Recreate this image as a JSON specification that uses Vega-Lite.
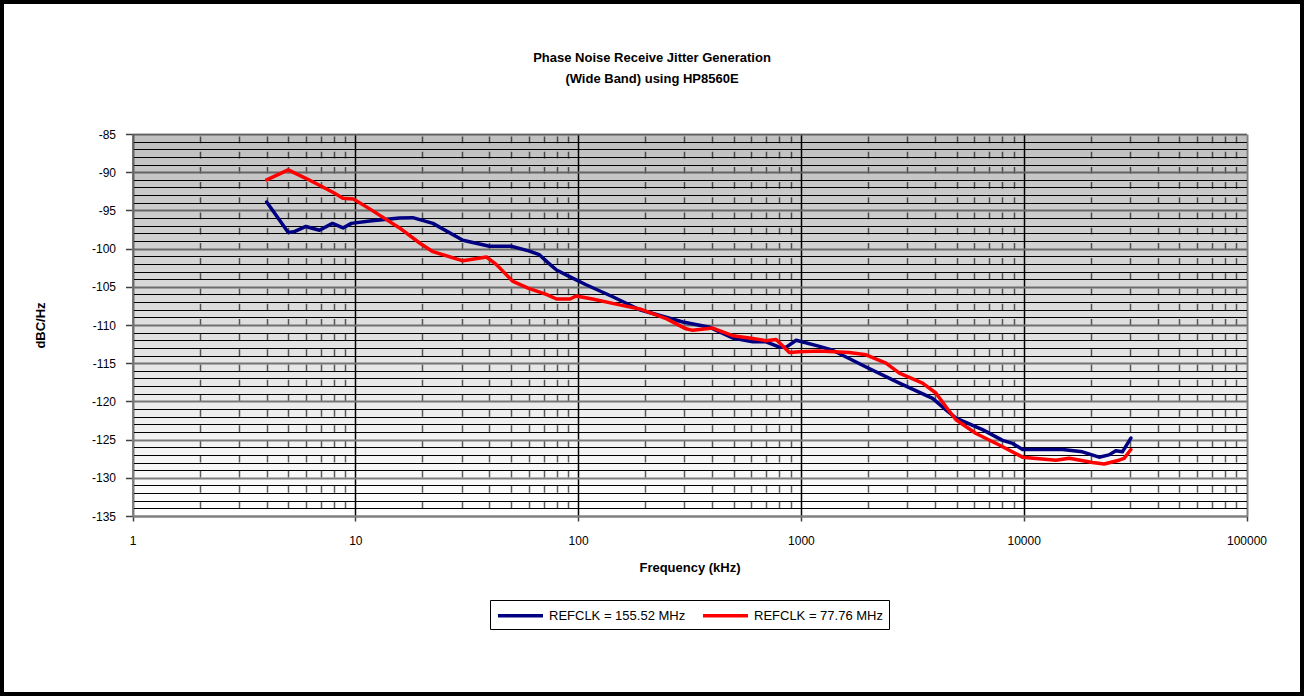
{
  "$schema": "https://vega.github.io/schema/vega-lite/v6.json",
  "width": 1304,
  "height": 696,
  "autosize": {"type": "none"},
  "padding": 0,
  "background": "white",
  "config": {
    "view": {"stroke": "black", "strokeWidth": 8, "fill": "white"},
    "font": "Liberation Sans"
  },
  "title": {
    "text": ["Phase Noise Receive Jitter Generation", "(Wide Band) using HP8560E"],
    "fontSize": 13,
    "fontWeight": "bold",
    "font": "Liberation Sans",
    "color": "black",
    "anchor": "middle",
    "offset": -86,
    "lineHeight": 21
  },
  "datasets": {
    "plotrange": [{"f_lo": 1, "f_hi": 100000, "db_hi": -85, "db_lo": -135}],
    "noise": [
      {"series": "REFCLK = 155.52 MHz", "f": 4, "db": -93.9},
      {"series": "REFCLK = 155.52 MHz", "f": 4.5, "db": -96.0},
      {"series": "REFCLK = 155.52 MHz", "f": 5, "db": -97.9},
      {"series": "REFCLK = 155.52 MHz", "f": 5.3, "db": -97.8},
      {"series": "REFCLK = 155.52 MHz", "f": 6, "db": -97.1},
      {"series": "REFCLK = 155.52 MHz", "f": 6.9, "db": -97.6},
      {"series": "REFCLK = 155.52 MHz", "f": 7.9, "db": -96.7},
      {"series": "REFCLK = 155.52 MHz", "f": 8.8, "db": -97.3},
      {"series": "REFCLK = 155.52 MHz", "f": 9.6, "db": -96.7},
      {"series": "REFCLK = 155.52 MHz", "f": 11.6, "db": -96.4},
      {"series": "REFCLK = 155.52 MHz", "f": 15.8, "db": -96.0},
      {"series": "REFCLK = 155.52 MHz", "f": 18.1, "db": -95.95},
      {"series": "REFCLK = 155.52 MHz", "f": 22.3, "db": -96.7},
      {"series": "REFCLK = 155.52 MHz", "f": 30.4, "db": -98.9},
      {"series": "REFCLK = 155.52 MHz", "f": 40, "db": -99.7},
      {"series": "REFCLK = 155.52 MHz", "f": 50, "db": -99.7},
      {"series": "REFCLK = 155.52 MHz", "f": 60, "db": -100.3},
      {"series": "REFCLK = 155.52 MHz", "f": 67, "db": -100.8},
      {"series": "REFCLK = 155.52 MHz", "f": 73, "db": -101.8},
      {"series": "REFCLK = 155.52 MHz", "f": 80, "db": -102.8},
      {"series": "REFCLK = 155.52 MHz", "f": 92, "db": -103.7},
      {"series": "REFCLK = 155.52 MHz", "f": 108, "db": -104.7},
      {"series": "REFCLK = 155.52 MHz", "f": 143, "db": -106.3},
      {"series": "REFCLK = 155.52 MHz", "f": 189, "db": -108.0},
      {"series": "REFCLK = 155.52 MHz", "f": 295, "db": -109.6},
      {"series": "REFCLK = 155.52 MHz", "f": 390, "db": -110.3},
      {"series": "REFCLK = 155.52 MHz", "f": 494, "db": -111.7},
      {"series": "REFCLK = 155.52 MHz", "f": 608, "db": -112.2},
      {"series": "REFCLK = 155.52 MHz", "f": 698, "db": -112.2},
      {"series": "REFCLK = 155.52 MHz", "f": 801, "db": -112.9},
      {"series": "REFCLK = 155.52 MHz", "f": 860, "db": -112.9},
      {"series": "REFCLK = 155.52 MHz", "f": 952, "db": -112.0},
      {"series": "REFCLK = 155.52 MHz", "f": 1211, "db": -112.8},
      {"series": "REFCLK = 155.52 MHz", "f": 1388, "db": -113.3},
      {"series": "REFCLK = 155.52 MHz", "f": 1960, "db": -115.5},
      {"series": "REFCLK = 155.52 MHz", "f": 2768, "db": -117.6},
      {"series": "REFCLK = 155.52 MHz", "f": 3900, "db": -119.6},
      {"series": "REFCLK = 155.52 MHz", "f": 4480, "db": -121.1},
      {"series": "REFCLK = 155.52 MHz", "f": 4970, "db": -122.2},
      {"series": "REFCLK = 155.52 MHz", "f": 6530, "db": -123.7},
      {"series": "REFCLK = 155.52 MHz", "f": 8040, "db": -125.1},
      {"series": "REFCLK = 155.52 MHz", "f": 8910, "db": -125.5},
      {"series": "REFCLK = 155.52 MHz", "f": 9880, "db": -126.3},
      {"series": "REFCLK = 155.52 MHz", "f": 14930, "db": -126.3},
      {"series": "REFCLK = 155.52 MHz", "f": 18350, "db": -126.6},
      {"series": "REFCLK = 155.52 MHz", "f": 21800, "db": -127.3},
      {"series": "REFCLK = 155.52 MHz", "f": 24150, "db": -127.0},
      {"series": "REFCLK = 155.52 MHz", "f": 25900, "db": -126.45},
      {"series": "REFCLK = 155.52 MHz", "f": 27740, "db": -126.6},
      {"series": "REFCLK = 155.52 MHz", "f": 30270, "db": -124.8},
      {"series": "REFCLK = 77.76 MHz", "f": 4, "db": -91.0},
      {"series": "REFCLK = 77.76 MHz", "f": 5, "db": -89.7},
      {"series": "REFCLK = 77.76 MHz", "f": 6, "db": -90.8},
      {"series": "REFCLK = 77.76 MHz", "f": 6.9, "db": -91.7},
      {"series": "REFCLK = 77.76 MHz", "f": 8, "db": -92.7},
      {"series": "REFCLK = 77.76 MHz", "f": 8.8, "db": -93.4},
      {"series": "REFCLK = 77.76 MHz", "f": 9.8, "db": -93.5},
      {"series": "REFCLK = 77.76 MHz", "f": 11.6, "db": -94.8},
      {"series": "REFCLK = 77.76 MHz", "f": 15.8, "db": -97.3},
      {"series": "REFCLK = 77.76 MHz", "f": 19.5, "db": -99.3},
      {"series": "REFCLK = 77.76 MHz", "f": 22.3, "db": -100.4},
      {"series": "REFCLK = 77.76 MHz", "f": 30.4, "db": -101.6},
      {"series": "REFCLK = 77.76 MHz", "f": 38.8, "db": -101.1},
      {"series": "REFCLK = 77.76 MHz", "f": 43, "db": -102.1},
      {"series": "REFCLK = 77.76 MHz", "f": 51, "db": -104.3},
      {"series": "REFCLK = 77.76 MHz", "f": 60, "db": -105.2},
      {"series": "REFCLK = 77.76 MHz", "f": 72, "db": -106.0},
      {"series": "REFCLK = 77.76 MHz", "f": 80, "db": -106.6},
      {"series": "REFCLK = 77.76 MHz", "f": 92, "db": -106.6},
      {"series": "REFCLK = 77.76 MHz", "f": 98, "db": -106.2},
      {"series": "REFCLK = 77.76 MHz", "f": 116, "db": -106.6},
      {"series": "REFCLK = 77.76 MHz", "f": 150, "db": -107.3},
      {"series": "REFCLK = 77.76 MHz", "f": 189, "db": -107.9},
      {"series": "REFCLK = 77.76 MHz", "f": 250, "db": -109.2},
      {"series": "REFCLK = 77.76 MHz", "f": 305, "db": -110.5},
      {"series": "REFCLK = 77.76 MHz", "f": 327, "db": -110.7},
      {"series": "REFCLK = 77.76 MHz", "f": 402, "db": -110.4},
      {"series": "REFCLK = 77.76 MHz", "f": 494, "db": -111.4},
      {"series": "REFCLK = 77.76 MHz", "f": 587, "db": -111.7},
      {"series": "REFCLK = 77.76 MHz", "f": 698, "db": -112.05},
      {"series": "REFCLK = 77.76 MHz", "f": 774, "db": -111.9},
      {"series": "REFCLK = 77.76 MHz", "f": 888, "db": -113.6},
      {"series": "REFCLK = 77.76 MHz", "f": 985, "db": -113.5},
      {"series": "REFCLK = 77.76 MHz", "f": 1211, "db": -113.4},
      {"series": "REFCLK = 77.76 MHz", "f": 1649, "db": -113.6},
      {"series": "REFCLK = 77.76 MHz", "f": 1960, "db": -113.9},
      {"series": "REFCLK = 77.76 MHz", "f": 2410, "db": -115.0},
      {"series": "REFCLK = 77.76 MHz", "f": 2768, "db": -116.3},
      {"series": "REFCLK = 77.76 MHz", "f": 3515, "db": -117.6},
      {"series": "REFCLK = 77.76 MHz", "f": 4035, "db": -118.9},
      {"series": "REFCLK = 77.76 MHz", "f": 4477, "db": -120.7},
      {"series": "REFCLK = 77.76 MHz", "f": 4965, "db": -122.4},
      {"series": "REFCLK = 77.76 MHz", "f": 6110, "db": -124.2},
      {"series": "REFCLK = 77.76 MHz", "f": 7765, "db": -125.7},
      {"series": "REFCLK = 77.76 MHz", "f": 9880, "db": -127.3},
      {"series": "REFCLK = 77.76 MHz", "f": 13940, "db": -127.7},
      {"series": "REFCLK = 77.76 MHz", "f": 16000, "db": -127.45},
      {"series": "REFCLK = 77.76 MHz", "f": 20360, "db": -128.0},
      {"series": "REFCLK = 77.76 MHz", "f": 22960, "db": -128.2},
      {"series": "REFCLK = 77.76 MHz", "f": 26800, "db": -127.7},
      {"series": "REFCLK = 77.76 MHz", "f": 28230, "db": -127.45},
      {"series": "REFCLK = 77.76 MHz", "f": 30270, "db": -126.3}
    ]
  },
  "resolve": {"axis": {"x": "independent", "y": "independent"}},
  "layer": [
    {
      "data": {"name": "plotrange"},
      "mark": {
        "type": "rect",
        "fill": {
          "gradient": "linear",
          "x1": 0, "y1": 0, "x2": 0, "y2": 1,
          "stops": [
            {"offset": 0, "color": "rgba(0,0,0,0.25)"},
            {"offset": 1, "color": "rgba(0,0,0,0)"}
          ]
        }
      },
      "encoding": {
        "x": {
          "field": "f_lo", "type": "quantitative",
          "scale": {"type": "log", "domain": [1, 100000], "range": [132.5, 1246.5], "nice": false},
          "axis": {
            "orient": "top", "offset": 0, "zindex": 0,
            "values": [1, 10, 100, 1000, 10000, 100000],
            "grid": true,
            "gridColor": {"condition": {"test": "datum.value === 1 || datum.value === 100000", "value": "#808080"}, "value": "#000000"},
            "gridWidth": {"condition": {"test": "datum.value === 1 || datum.value === 100000", "value": 2}, "value": 1.5},
            "domain": false, "ticks": false, "labels": false, "title": null
          }
        },
        "x2": {"field": "f_hi"},
        "y": {
          "field": "db_hi", "type": "quantitative",
          "scale": {"domain": [-135, -85], "range": [516, 134], "nice": false, "zero": false},
          "axis": null
        },
        "y2": {"field": "db_lo"}
      }
    },
    {
      "data": {"name": "noise"},
      "transform": [{"filter": "datum.series === 'REFCLK = 155.52 MHz'"}],
      "mark": {"type": "line", "strokeWidth": 3.5, "strokeJoin": "round", "strokeCap": "round"},
      "encoding": {
        "x": {
          "field": "f",
          "type": "quantitative",
          "scale": {"type": "log", "domain": [1, 100000], "range": [132.5, 1246.5], "nice": false},
          "axis": {
            "orient": "top", "offset": 0, "zindex": 0,
            "values": [2,3,4,5,6,7,8,9,20,30,40,50,60,70,80,90,200,300,400,500,600,700,800,900,2000,3000,4000,5000,6000,7000,8000,9000,20000,30000,40000,50000,60000,70000,80000,90000],
            "grid": true, "gridColor": "#606060", "gridWidth": 1.5, "gridDash": [6.7, 8.5], "gridDashOffset": 6.7,
            "domain": false, "ticks": false, "labels": false, "title": null
          }
        },
        "y": {
          "field": "db",
          "type": "quantitative",
          "scale": {"domain": [-135, -85], "range": [516, 134], "nice": false, "zero": false},
          "axis": {
            "orient": "left", "offset": -132.5, "zindex": 0,
            "values": [-134,-133,-132,-131,-129,-128,-127,-126,-124,-123,-122,-121,-119,-118,-117,-116,-114,-113,-112,-111,-109,-108,-107,-106,-104,-103,-102,-101,-99,-98,-97,-96,-94,-93,-92,-91,-89,-88,-87,-86],
            "grid": true, "gridColor": "#000000", "gridWidth": 1,
            "domain": false, "ticks": false, "labels": false, "title": null
          }
        },
        "color": {
          "field": "series",
          "type": "nominal",
          "scale": {"domain": ["REFCLK = 155.52 MHz", "REFCLK = 77.76 MHz"], "range": ["#000080", "#ff0000"]},
          "legend": {
            "orient": "none", "legendX": 490, "legendY": 600, "direction": "horizontal", "title": null,
            "strokeColor": "black", "fillColor": "white", "padding": 6,
            "symbolType": "M-1,0H5", "symbolSize": 225, "symbolStrokeWidth": 3.5,
            "labelFont": "Liberation Sans", "labelFontSize": 13, "labelColor": "black",
            "columnPadding": 10, "labelOffset": 34
          }
        }
      }
    },
    {
      "data": {"name": "noise"},
      "transform": [{"filter": "datum.series === 'REFCLK = 77.76 MHz'"}],
      "mark": {"type": "line", "strokeWidth": 3.5, "strokeJoin": "round", "strokeCap": "round"},
      "encoding": {
        "x": {
          "field": "f",
          "type": "quantitative",
          "scale": {"type": "log", "domain": [1, 100000], "range": [132.5, 1246.5], "nice": false},
          "axis": {
            "orient": "bottom", "offset": -180, "zindex": 0,
            "values": [1, 10, 100, 1000, 10000, 100000],
            "labelExpr": "'' + datum.value",
            "grid": false,
            "domain": true, "domainColor": "#808080", "domainWidth": 2,
            "ticks": true, "tickSize": 5, "tickColor": "#404040", "tickWidth": 1.5,
            "labelFont": "Liberation Sans", "labelFontSize": 12, "labelColor": "black", "labelPadding": 14,
            "labelFlush": false, "labelOverlap": false, "labelBound": false,
            "title": "Frequency (kHz)", "titleFont": "Liberation Sans", "titleFontSize": 13, "titleFontWeight": "bold",
            "titleColor": "black", "titlePadding": 15
          }
        },
        "y": {
          "field": "db",
          "type": "quantitative",
          "scale": {"domain": [-135, -85], "range": [516, 134], "nice": false, "zero": false},
          "axis": {
            "orient": "left", "offset": -132.5, "zindex": 0,
            "values": [-135, -130, -125, -120, -115, -110, -105, -100, -95, -90, -85],
            "labelExpr": "'' + datum.value",
            "grid": true, "gridColor": "#808080", "gridWidth": 2,
            "domain": true, "domainColor": "#808080", "domainWidth": 2,
            "ticks": true, "tickSize": 7, "tickColor": "#404040", "tickWidth": 1.5,
            "labelFont": "Liberation Sans", "labelFontSize": 12, "labelColor": "black", "labelPadding": 10,
            "labelFlush": false, "labelOverlap": false, "labelBound": false,
            "title": "dBC/Hz", "titleFont": "Liberation Sans", "titleFontSize": 13, "titleFontWeight": "bold",
            "titleColor": "black", "titlePadding": 44
          }
        },
        "color": {
          "field": "series",
          "type": "nominal",
          "scale": {"domain": ["REFCLK = 155.52 MHz", "REFCLK = 77.76 MHz"], "range": ["#000080", "#ff0000"]},
          "legend": {
            "orient": "none", "legendX": 490, "legendY": 600, "direction": "horizontal", "title": null,
            "strokeColor": "black", "fillColor": "white", "padding": 6,
            "symbolType": "M-1,0H5", "symbolSize": 225, "symbolStrokeWidth": 3.5,
            "labelFont": "Liberation Sans", "labelFontSize": 13, "labelColor": "black",
            "columnPadding": 10, "labelOffset": 34
          }
        }
      }
    }
  ]
}
